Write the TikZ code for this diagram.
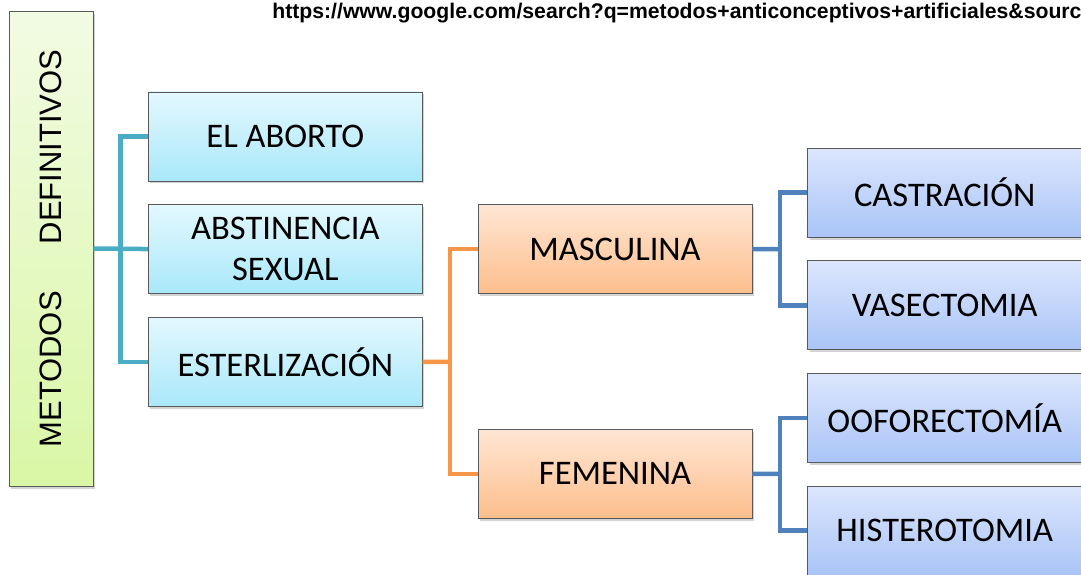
\documentclass[tikz,border=0pt]{standalone}
\usepackage{fontspec}
\setmainfont{Carlito}
\newfontfamily\arialfont{Liberation Sans}
\usetikzlibrary{positioning,calc,shadows}
\definecolor{lineTeal}{HTML}{4BACC6}
\definecolor{lineOrange}{HTML}{F79646}
\definecolor{lineBlue}{HTML}{4F81BD}
\definecolor{cyanTop}{HTML}{E3F8FE}
\definecolor{cyanBot}{HTML}{A9E8FA}
\definecolor{peachTop}{HTML}{FFE6D4}
\definecolor{peachBot}{HTML}{FDBE8C}
\definecolor{blueTop}{HTML}{DCE6FD}
\definecolor{blueBot}{HTML}{A9C4F7}
\definecolor{greenTop}{HTML}{F2FBE3}
\definecolor{greenBot}{HTML}{D9F7A6}
\begin{document}
\begin{tikzpicture}[x=1pt, y=-1pt, node distance=23pt and 55pt,
      every node/.style={font=\fontsize{34.5}{41}\selectfont},
      box/.style={draw=gray!70!black, line width=0.7pt, align=center, minimum width=274pt, minimum height=89pt,
        inner sep=0pt, drop shadow={shadow xshift=2pt, shadow yshift=-2.5pt, opacity=0.35}},
      cyanbox/.style={box, top color=cyanTop, bottom color=cyanBot},
      peachbox/.style={box, top color=peachTop, bottom color=peachBot},
      bluebox/.style={box, top color=blueTop, bottom color=blueBot},
      rootbox/.style={box, minimum width=84pt, minimum height=475pt, top color=greenTop, bottom color=greenBot,
        font=\arialfont\fontsize{31}{31}\selectfont},
      link/.style={line width=4.5pt}]
    \useasboundingbox (0,0) rectangle (1081,574);
    \node[anchor=base east, font=\arialfont\bfseries\fontsize{21.2}{21.2}\selectfont] (url) at (1085,18)
      {https://www.google.com/search?q=metodos+anticonceptivos+artificiales\&sourc};
    \node[rootbox] (root) at (51,248.5) {\rotatebox{90}{METODOS\hspace{47pt}DEFINITIVOS}};
    \node[cyanbox, anchor=north west] (aborto) at (148,91.5) {EL ABORTO};
    \node[cyanbox, below=of aborto] (abst) {ABSTINENCIA\\SEXUAL};
    \node[cyanbox, below=of abst] (ester) {ESTERLIZACIÓN};
    \node[peachbox, right=of abst] (masc) {MASCULINA};
    \node[peachbox, below=135pt of masc] (fem) {FEMENINA};
    \node[bluebox, right=of masc, yshift=56.5pt] (castr) {CASTRACIÓN};
    \node[bluebox, below=of castr] (vasec) {VASECTOMIA};
    \node[bluebox, below=of vasec] (oofor) {OOFORECTOMÍA};
    \node[bluebox, below=of oofor] (hister) {HISTEROTOMIA};
    \coordinate (jA) at ($(root.east)!0.5!(abst.west)$);
    \coordinate (jB) at ($(ester.east)!0.5!(ester.east -| masc.west)$);
    \coordinate (jC) at ($(masc.east)!0.5!(castr.west |- masc.east)$);
    \coordinate (jD) at ($(fem.east)!0.5!(oofor.west |- fem.east)$);
    \draw[link, lineTeal] (root.east) -- (abst.west); \draw[link, lineTeal] (aborto.west) -| (jA) |- (ester.west);
    \draw[link, lineOrange] (ester.east) -- (jB); \draw[link, lineOrange] (masc.west) -| (jB) |- (fem.west);
    \draw[link, lineBlue] (masc.east) -- (jC); \draw[link, lineBlue] (castr.west) -| (jC) |- (vasec.west);
    \draw[link, lineBlue] (fem.east) -- (jD); \draw[link, lineBlue] (oofor.west) -| (jD) |- (hister.west);
  \end{tikzpicture}
\end{document}
